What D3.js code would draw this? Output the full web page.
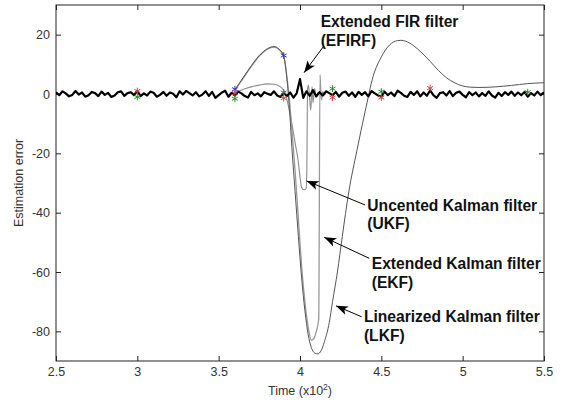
<!DOCTYPE html>
<html>
<head>
<meta charset="utf-8">
<script src="https://cdn.jsdelivr.net/npm/d3@7"></script>
<style>
body { margin: 0; background: #fff; }
svg { display: block; font-family: "Liberation Sans", Arial, sans-serif; }
</style>
</head>
<body>
<div class="chart-div"></div>
<script>
// axis ticks
var xTicks = [2.5, 3, 3.5, 4, 4.5, 5, 5.5];
var yTicks = [20, 0, -20, -40, -60, -80];

// EFIRF: sampled every 0.02 from 2.5
var efirfStart = 2.5, efirfStep = 0.02;
var efirfErr = [
  0.6,-0.4,0.9,0.2,-0.8,-0.3,1.0,-0.2,0.5,-0.9,
  -0.4,0.7,0.3,-0.7,0.8,-0.3,0.4,-1.0,-0.5,0.6,
  0.9,-0.6,0.3,0.6,-0.4,1.1,-0.7,0.2,-0.5,0.8,
  0.4,-0.9,-0.3,0.7,-0.6,0.5,0.1,-1.1,0.9,-0.2,
  1.0,0.3,-0.5,0.6,-0.8,-0.2,0.9,-0.6,0.7,-1.3,
  -0.4,0.5,1.1,-0.9,0.4,-0.5,0.8,0.2,-0.7,-1.2,
  0.7,-0.4,0.2,-0.8,0.6,0.1,-0.3,0.9,-0.5,-1.0,
  0.4,-0.7,0.5,-1.2,0.3,5.0,-1.3,0.9,-0.6,1.3,
  -0.8,0.6,-0.5,0.9,0.3,-0.4,0.7,-0.9,0.4,0.8,
  -0.6,0.5,-1.0,0.7,-0.3,0.6,-0.8,1.0,0.2,-0.5,
  -0.9,0.8,-0.4,0.5,-0.7,1.1,0.4,-0.6,-1.0,0.7,
  -0.3,0.9,-0.8,0.5,-0.6,1.2,-0.4,-1.3,0.3,0.6,
  -0.5,1.0,-0.7,0.4,0.8,-0.3,-1.1,0.6,-0.4,0.5,
  -0.8,0.3,-0.6,0.9,-0.5,-1.2,0.4,-0.7,0.6,-0.3,
  0.8,-0.6,0.5,-0.4,0.7,-0.9,0.3,-0.5,0.8,-0.4,
  0.6
];

// LKF
var lkfT = [3.60,3.65,3.70,3.75,3.80,3.84,3.87,3.90,3.92,3.935,3.95,3.97,3.99,4.01,4.03,4.05,4.07,4.09,4.11,4.13,4.15,4.18,4.20,4.23,4.26,4.30,4.35,4.40,4.45,4.50,4.55,4.60,4.62,4.65,4.70,4.75,4.80,4.85,4.90,4.95,5.00,5.05,5.10,5.20,5.30,5.40,5.50];
var lkfErr = [1.5,5.5,9.5,13,15.3,16,15.2,12.8,5,-5,-18,-33,-48,-62,-73,-81,-85.5,-87.3,-87.6,-86.5,-83.5,-77,-70,-60,-48,-33,-19,-6,6,12.5,16.5,18,18.1,17.8,16.2,13.8,11,8,5.5,3.8,2.7,2.3,2.2,2.4,2.9,3.5,3.8];

// EKF
var ekfT = [3.60,3.65,3.70,3.75,3.80,3.84,3.87,3.90,3.92,3.935,3.95,3.97,3.99,4.01,4.03,4.05,4.07,4.085,4.10,4.115,4.123,4.128,4.133,4.14,4.15,4.16];
var ekfErr = [1.2,5.2,9.2,12.8,15.1,15.8,15,12.6,5.5,-2,-12,-26,-42,-58,-70,-78.5,-83,-82.5,-80,-76,6.5,1,-2,0.8,-0.3,0.2];

// UKF
var ukfT = [3.60,3.65,3.70,3.75,3.80,3.84,3.88,3.91,3.93,3.95,3.97,3.99,4.00,4.01,4.025,4.037,4.042,4.046,4.052,4.058,4.066,4.074,4.08,4.09,4.10,4.11,4.13,4.15];
var ukfErr = [0.5,1.5,2.4,3,3.4,3.3,2.4,0.2,-4.5,-10,-16.5,-23,-28,-31.5,-32.3,-32,-26,1.5,3,-0.5,-5.5,2.5,-3,1.8,-1,0.5,0,0.3];

// star markers
var starBlue = [[3.6,1.6],[3.9,13]];
var starRed = [[3.0,1.0],[3.6,0.3],[3.9,-1.4],[4.2,-1.2],[4.5,-1.2],[4.8,2.0]];
var starGreen = [[3.0,-1.0],[3.6,-1.6],[3.9,0.5],[4.2,1.8],[4.5,0.8],[5.4,0.6]];

// annotations: text lines, text anchor point, arrow tail and tip (data units)
var notes = [
  {lines:["Extended FIR filter","(EFIRF)"], x:4.127, y:22.5, tail:[4.143,15.9], tip:[4.025,7.2]},
  {lines:["Uncented Kalman filter","(UKF)"], x:4.414, y:-39.3, tail:[4.40,-37.4], tip:[4.041,-29.3]},
  {lines:["Extended Kalman filter","(EKF)"], x:4.441, y:-59.1, tail:[4.426,-55.4], tip:[4.149,-48.3]},
  {lines:["Linearized Kalman filter","(LKF)"], x:4.393, y:-77, tail:[4.379,-75.1], tip:[4.221,-71.4]}
];

var margin = {top: 5, right: 19, bottom: 43, left: 56},
  width = 563 - margin.left - margin.right,
  height = 404 - margin.top - margin.bottom;

var svg = d3.select(".chart-div").append("svg")
  .attr("width", 563).attr("height", 404)
  .append("g").attr("transform", "translate(" + margin.left + "," + margin.top + ")");

var x = d3.scaleLinear().domain([2.5, 5.5]).range([0, width]);
var y = d3.scaleLinear().domain([-90, 30]).range([height, 0]);

svg.append("defs").append("clipPath").attr("id", "clip")
  .append("rect").attr("width", width).attr("height", height);

function styleAxis(g) {
  g.select(".domain").remove();
  g.selectAll("line").attr("stroke", "#222");
  g.selectAll("text").attr("fill", "#333").style("font-size", "12.5px")
    .style("font-family", "'Liberation Sans', Arial, sans-serif");
}

svg.append("g").attr("transform", "translate(0," + height + ")")
  .call(d3.axisBottom(x).tickValues(xTicks).tickSizeInner(-5).tickSizeOuter(0).tickPadding(6).tickFormat(String))
  .call(styleAxis);
svg.append("g")
  .call(d3.axisTop(x).tickValues(xTicks).tickSizeInner(-5).tickSizeOuter(0).tickFormat(""))
  .call(styleAxis);
svg.append("g")
  .call(d3.axisLeft(y).tickValues(yTicks).tickSizeInner(-5).tickSizeOuter(0).tickPadding(6).tickFormat(String))
  .call(styleAxis);
svg.append("g").attr("transform", "translate(" + width + ",0)")
  .call(d3.axisRight(y).tickValues(yTicks).tickSizeInner(-5).tickSizeOuter(0).tickFormat(""))
  .call(styleAxis);

svg.append("rect").attr("width", width).attr("height", height)
  .attr("fill", "none").attr("stroke", "#222").attr("stroke-width", 1);

var plot = svg.append("g").attr("clip-path", "url(#clip)");

var smooth = d3.line().x(function(d) { return x(d[0]); }).y(function(d) { return y(d[1]); }).curve(d3.curveMonotoneX);
var straight = d3.line().x(function(d) { return x(d[0]); }).y(function(d) { return y(d[1]); });

function pairs(t, v) { return t.map(function(d, i) { return [d, v[i]]; }); }

plot.append("path").datum(pairs(ukfT, ukfErr)).attr("d", smooth)
  .attr("fill", "none").attr("stroke", "#8c8c8c").attr("stroke-width", 1.1);
plot.append("path").datum(pairs(ekfT, ekfErr)).attr("d", smooth)
  .attr("fill", "none").attr("stroke", "#999").attr("stroke-width", 1.3);
plot.append("path").datum(pairs(lkfT, lkfErr)).attr("d", smooth)
  .attr("fill", "none").attr("stroke", "#555").attr("stroke-width", 1);

var efirf = efirfErr.map(function(v, i) { return [efirfStart + i * efirfStep, v]; });
plot.append("path").datum(efirf).attr("d", straight)
  .attr("fill", "none").attr("stroke", "#000").attr("stroke-width", 2.2).attr("stroke-linejoin", "round");

var star = d3.symbol().type(d3.symbolAsterisk).size(32);
[[starBlue, "#3333cc"], [starRed, "#d04545"], [starGreen, "#2a8a2a"]].forEach(function(s) {
  plot.selectAll(null).data(s[0]).enter().append("path")
    .attr("d", star)
    .attr("transform", function(d) { return "translate(" + x(d[0]) + "," + y(d[1]) + ")"; })
    .attr("fill", "none").attr("stroke", s[1]).attr("stroke-width", 1);
});

// annotations
var note = svg.selectAll(".note").data(notes).enter().append("g").attr("class", "note");
note.append("text")
  .attr("x", function(d) { return x(d.x); })
  .attr("y", function(d) { return y(d.y); })
  .style("font-size", "15.6px").style("font-weight", "bold").attr("fill", "#111")
  .selectAll("tspan").data(function(d) { return d.lines.map(function(l) { return {l: l, x: x(d.x)}; }); })
  .enter().append("tspan")
  .attr("x", function(d) { return d.x; })
  .attr("dy", function(d, i) { return i ? 18.4 : 0; })
  .text(function(d) { return d.l; });

note.append("line")
  .attr("x1", function(d) { return x(d.tail[0]); }).attr("y1", function(d) { return y(d.tail[1]); })
  .attr("x2", function(d) { return x(d.tip[0]); }).attr("y2", function(d) { return y(d.tip[1]); })
  .attr("stroke", "#000").attr("stroke-width", 1);

note.append("path")
  .attr("d", function(d) {
    var tx = x(d.tip[0]), ty = y(d.tip[1]);
    var a = Math.atan2(ty - y(d.tail[1]), tx - x(d.tail[0]));
    var L = 12, W = 4.5, N = 9;
    var c = Math.cos(a), s = Math.sin(a);
    var p1 = [tx - L * c + W * s, ty - L * s - W * c];
    var p2 = [tx - N * c, ty - N * s];
    var p3 = [tx - L * c - W * s, ty - L * s + W * c];
    return "M" + tx + "," + ty + "L" + p1 + "L" + p2 + "L" + p3 + "Z";
  })
  .attr("fill", "#000");

// axis titles
var xt = svg.append("text").attr("x", width / 2).attr("y", height + 34)
  .attr("text-anchor", "middle").style("font-size", "12.5px").attr("fill", "#333");
xt.append("tspan").text("Time (x10");
xt.append("tspan").attr("dy", -5).style("font-size", "8.5px").text("2");
xt.append("tspan").attr("dy", 5).text(")");

svg.append("text")
  .attr("transform", "translate(" + (22.5 - margin.left) + "," + (183 - margin.top) + ") rotate(-90)")
  .attr("text-anchor", "middle").style("font-size", "12.5px").attr("fill", "#333")
  .text("Estimation error");
</script>
</body>
</html>
